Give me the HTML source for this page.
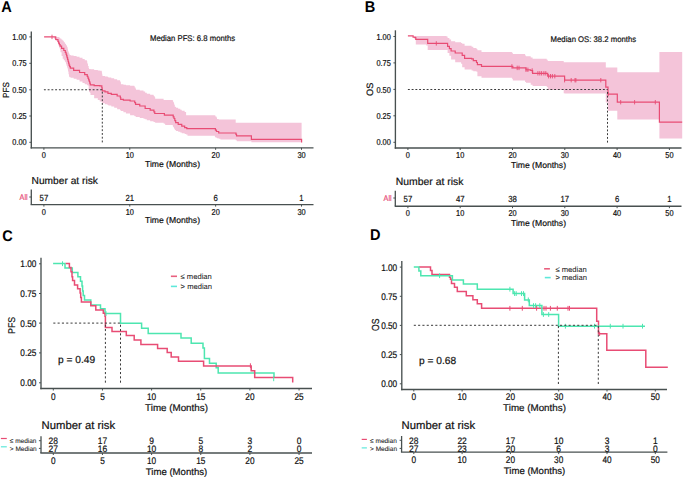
<!DOCTYPE html>
<html><head><meta charset="utf-8"><style>
html,body{margin:0;padding:0;background:#fff;width:685px;height:478px;overflow:hidden}
svg{display:block;font-family:"Liberation Sans",sans-serif;text-rendering:geometricPrecision}

</style></head><body>
<svg width="685" height="478" viewBox="0 0 685 478">
<rect width="685" height="478" fill="#fff"/>
<text transform="translate(1.3,12.0) scale(0.94,1)" font-size="15.5" font-weight="bold" fill="#000">A</text>
<path d="M53.90,36.92 L55.75,36.92 L55.75,36.95 L57.60,36.95 L57.60,36.98 L57.95,36.98 L57.95,36.99 L58.65,36.99 L58.65,37.00 L59.00,37.00 L59.00,37.17 L59.38,37.17 L59.38,37.68 L60.12,37.68 L60.12,38.19 L60.50,38.19 L60.50,38.86 L61.60,38.86 L61.60,39.86 L62.70,39.86 L62.70,40.86 L63.80,40.86 L63.80,42.31 L64.90,42.31 L64.90,43.33 L65.28,43.33 L65.28,44.11 L66.03,44.11 L66.03,44.88 L66.40,44.88 L66.40,45.29 L66.63,45.29 L66.63,45.78 L67.10,45.78 L67.10,47.09 L67.57,47.09 L67.57,48.57 L67.80,48.57 L67.80,49.58 L68.05,49.58 L68.05,51.16 L68.55,51.16 L68.55,52.58 L69.05,52.58 L69.05,53.30 L69.30,53.30 L69.30,53.88 L69.65,53.88 L69.65,54.90 L70.35,54.90 L70.35,55.02 L70.70,55.02 L70.70,55.40 L73.65,55.40 L73.65,56.09 L76.60,56.09 L76.60,56.77 L79.55,56.77 L79.55,57.84 L82.50,57.84 L82.50,59.09 L84.70,59.09 L84.70,60.16 L86.90,60.16 L86.90,61.37 L87.25,61.37 L87.25,63.40 L87.95,63.40 L87.95,66.10 L88.65,66.10 L88.65,68.12 L89.00,68.12 L89.00,68.82 L89.25,68.82 L89.25,68.88 L89.75,68.88 L89.75,68.97 L90.25,68.97 L90.25,69.03 L90.50,69.03 L90.50,69.35 L94.15,69.35 L94.15,69.95 L97.80,69.95 L97.80,70.42 L99.75,70.42 L99.75,70.74 L101.70,70.74 L101.70,71.31 L101.83,71.31 L101.83,72.56 L102.10,72.56 L102.10,74.24 L102.37,74.24 L102.37,75.49 L102.50,75.49 L102.50,76.10 L105.00,76.10 L105.00,76.50 L107.50,76.50 L107.50,76.76 L107.95,76.76 L107.95,76.89 L108.40,76.89 L108.40,77.38 L111.30,77.38 L111.30,78.21 L114.20,78.21 L114.20,79.25 L117.15,79.25 L117.15,80.35 L120.10,80.35 L120.10,81.09 L120.30,81.09 L120.30,81.68 L120.70,81.68 L120.70,82.26 L120.90,82.26 L120.90,84.28 L123.40,84.28 L123.40,84.83 L125.90,84.83 L125.90,85.30 L130.10,85.30 L130.10,85.70 L134.30,85.70 L134.30,86.33 L134.73,86.33 L134.73,87.60 L135.57,87.60 L135.57,88.87 L136.00,88.87 L136.00,89.70 L139.75,89.70 L139.75,90.50 L143.50,90.50 L143.50,91.52 L145.15,91.52 L145.15,92.78 L146.80,92.78 L146.80,93.83 L150.15,93.83 L150.15,94.67 L153.50,94.67 L153.50,95.42 L153.93,95.42 L153.93,96.35 L154.77,96.35 L154.77,97.28 L155.20,97.28 L155.20,98.85 L163.60,98.85 L163.60,100.10 L164.40,100.10 L164.40,100.10 L165.20,100.10 L165.20,100.10 L172.80,100.10 L172.80,100.64 L173.20,100.64 L173.20,102.24 L174.00,102.24 L174.00,103.85 L174.40,103.85 L174.40,104.95 L174.82,104.95 L174.82,106.67 L175.68,106.67 L175.68,107.10 L176.10,107.10 L176.10,107.75 L178.20,107.75 L178.20,108.82 L180.30,108.82 L180.30,109.69 L181.75,109.69 L181.75,110.77 L184.65,110.77 L184.65,112.12 L186.10,112.12 L186.10,115.20 L186.80,115.20 L186.80,115.20 L187.50,115.20 L187.50,115.20 L214.90,115.20 L214.90,115.54 L215.43,115.54 L215.43,116.54 L216.47,116.54 L216.47,117.54 L217.00,117.54 L217.00,118.95 L218.70,118.95 L218.70,119.40 L220.40,119.40 L220.40,119.40 L235.70,119.40 L235.70,122.70 L235.97,122.70 L235.97,122.70 L236.53,122.70 L236.53,122.70 L236.80,122.70 L236.80,122.70 L251.40,122.70 L251.40,122.70 L301.60,122.70 L301.60,142.20 L251.40,142.20 L251.40,141.22 L236.80,141.22 L236.80,140.32 L236.53,140.32 L236.53,140.27 L235.97,140.27 L235.97,140.22 L235.70,140.22 L235.70,139.50 L220.40,139.50 L220.40,138.72 L218.70,138.72 L218.70,138.14 L217.00,138.14 L217.00,137.71 L216.47,137.71 L216.47,137.41 L215.43,137.41 L215.43,137.10 L214.90,137.10 L214.90,135.76 L187.50,135.76 L187.50,134.49 L186.80,134.49 L186.80,134.43 L186.10,134.43 L186.10,134.12 L184.65,134.12 L184.65,133.27 L181.75,133.27 L181.75,132.43 L180.30,132.43 L180.30,131.74 L178.20,131.74 L178.20,130.92 L176.10,130.92 L176.10,130.43 L175.68,130.43 L175.68,130.12 L174.82,130.12 L174.82,129.04 L174.40,129.04 L174.40,128.35 L174.00,128.35 L174.00,127.34 L173.20,127.34 L173.20,126.34 L172.80,126.34 L172.80,124.97 L165.20,124.97 L165.20,123.83 L164.40,123.83 L164.40,123.61 L163.60,123.61 L163.60,122.83 L155.20,122.83 L155.20,122.14 L154.77,122.14 L154.77,122.03 L153.93,122.03 L153.93,121.93 L153.50,121.93 L153.50,121.33 L150.15,121.33 L150.15,120.19 L146.80,120.19 L146.80,119.34 L145.15,119.34 L145.15,118.78 L143.50,118.78 L143.50,117.99 L139.75,117.99 L139.75,116.97 L136.00,116.97 L136.00,116.40 L135.57,116.40 L135.57,116.23 L134.73,116.23 L134.73,116.06 L134.30,116.06 L134.30,115.17 L130.10,115.17 L130.10,113.53 L125.90,113.53 L125.90,112.16 L123.40,112.16 L123.40,111.08 L120.90,111.08 L120.90,110.50 L120.70,110.50 L120.70,110.37 L120.30,110.37 L120.30,110.24 L120.10,110.24 L120.10,109.35 L117.15,109.35 L117.15,107.65 L114.20,107.65 L114.20,106.40 L111.30,106.40 L111.30,105.60 L108.40,105.60 L108.40,105.10 L107.95,105.10 L107.95,104.90 L107.50,104.90 L107.50,104.25 L105.00,104.25 L105.00,103.15 L102.50,103.15 L102.50,102.56 L102.37,102.56 L102.37,102.42 L102.10,102.42 L102.10,102.24 L101.83,102.24 L101.83,102.11 L101.70,102.11 L101.70,101.42 L99.75,101.42 L99.75,100.12 L97.80,100.12 L97.80,98.25 L94.15,98.25 L94.15,94.88 L90.50,94.88 L90.50,92.90 L90.25,92.90 L90.25,92.52 L89.75,92.52 L89.75,92.01 L89.25,92.01 L89.25,91.63 L89.00,91.63 L89.00,90.03 L88.65,90.03 L88.65,85.60 L87.95,85.60 L87.95,85.21 L87.25,85.21 L87.25,84.91 L86.90,84.91 L86.90,84.19 L84.70,84.19 L84.70,82.95 L82.50,82.95 L82.50,81.50 L79.55,81.50 L79.55,79.84 L76.60,79.84 L76.60,78.84 L73.65,78.84 L73.65,77.86 L70.70,77.86 L70.70,77.31 L70.35,77.31 L70.35,77.13 L69.65,77.13 L69.65,76.96 L69.30,76.96 L69.30,76.21 L69.05,76.21 L69.05,74.15 L68.55,74.15 L68.55,71.44 L68.05,71.44 L68.05,69.46 L67.80,69.46 L67.80,68.46 L67.57,68.46 L67.57,67.40 L67.10,67.40 L67.10,65.99 L66.63,65.99 L66.63,64.95 L66.40,64.95 L66.40,64.05 L66.03,64.05 L66.03,62.37 L65.28,62.37 L65.28,61.43 L64.90,61.43 L64.90,60.30 L63.80,60.30 L63.80,58.63 L62.70,58.63 L62.70,55.98 L61.60,55.98 L61.60,52.32 L60.50,52.32 L60.50,49.93 L60.12,49.93 L60.12,48.25 L59.38,48.25 L59.38,46.57 L59.00,46.57 L59.00,45.48 L58.65,45.48 L58.65,43.90 L57.95,43.90 L57.95,42.98 L57.60,42.98 L57.60,41.04 L55.75,41.04 L55.75,38.80 L53.90,38.80Z" fill="#f4c4d9" stroke="none"/>
<path d="M44.10,36.90H53.90V36.90H55.75V39.50H57.60V39.50H57.95V41.35H58.65V43.20H59.00V43.20H59.38V44.65H60.12V46.10H60.50V46.10H61.60V48.30H62.70V48.30H63.80V50.50H64.90V50.50H65.28V52.35H66.03V54.20H66.40V54.20H66.63V55.90H67.10V57.60H67.57V59.30H67.80V59.30H68.05V61.23H68.55V63.17H69.05V65.10H69.30V65.10H69.65V66.60H70.35V68.10H70.70V68.10H73.65V70.30H76.60V70.30H79.55V72.50H82.50V72.50H84.70V74.70H86.90V74.70H87.25V76.40H87.95V78.10H88.65V79.80H89.00V79.80H89.25V81.50H89.75V83.20H90.25V84.90H90.50V84.90H94.15V85.60H97.80V85.60H99.75V85.90H101.70V85.90H101.83V87.57H102.10V89.23H102.37V90.90H102.50V90.90H105.00V91.80H107.50V91.80H107.95V93.40H108.40V93.40H111.30V94.30H114.20V94.30H117.15V96.00H120.10V96.00H120.30V97.65H120.70V99.30H120.90V99.30H123.40V100.10H125.90V100.10H130.10V101.00H134.30V101.00H134.73V102.65H135.57V104.30H136.00V104.30H139.75V106.00H143.50V106.00H145.15V108.50H146.80V108.50H150.15V110.20H153.50V110.20H153.93V111.85H154.77V113.50H155.20V113.50H163.60V113.50H164.40V115.20H165.20V115.20H172.80V115.20H173.20V116.85H174.00V118.50H174.40V118.50H174.82V120.60H175.68V122.70H176.10V122.70H178.20V124.40H180.30V124.40H181.75V126.05H184.65V127.70H186.10V127.70H186.80V128.60H187.50V128.60H214.90V128.60H215.43V130.05H216.47V131.50H217.00V131.50H218.70V133.00H220.40V133.00H235.70V133.00H235.97V134.40H236.53V135.80H236.80V135.80H251.40V135.80H251.40V137.55H251.40V139.30H251.40V139.30H301.60V139.30H301.60V140.85H301.60V142.40H301.60V142.40" fill="none" stroke="#e84c74" stroke-width="1.2"/>
<line x1="52.00" y1="34.70" x2="52.00" y2="39.10" stroke="#e84c74" stroke-width="0.9" />
<line x1="43.90" y1="89.80" x2="102.30" y2="89.80" stroke="#3a3a3a" stroke-width="1.1" stroke-dasharray="1.9 1.85"/>
<line x1="102.30" y1="142.40" x2="102.30" y2="89.80" stroke="#3a3a3a" stroke-width="1.0" stroke-dasharray="1.9 1.85"/>
<line x1="31.30" y1="31.50" x2="31.30" y2="148.48" stroke="#485050" stroke-width="1.35" />
<line x1="29.30" y1="36.90" x2="31.30" y2="36.90" stroke="#485050" stroke-width="1.0" />
<text transform="translate(26.70,40.00) scale(0.86,1)" font-size="8.6" text-anchor="end" fill="#111111" stroke="#111111" stroke-width="0.2" font-weight="normal">1.00</text>
<line x1="29.30" y1="63.30" x2="31.30" y2="63.30" stroke="#485050" stroke-width="1.0" />
<text transform="translate(26.70,66.40) scale(0.86,1)" font-size="8.6" text-anchor="end" fill="#111111" stroke="#111111" stroke-width="0.2" font-weight="normal">0.75</text>
<line x1="29.30" y1="89.80" x2="31.30" y2="89.80" stroke="#485050" stroke-width="1.0" />
<text transform="translate(26.70,92.90) scale(0.86,1)" font-size="8.6" text-anchor="end" fill="#111111" stroke="#111111" stroke-width="0.2" font-weight="normal">0.50</text>
<line x1="29.30" y1="116.00" x2="31.30" y2="116.00" stroke="#485050" stroke-width="1.0" />
<text transform="translate(26.70,119.10) scale(0.86,1)" font-size="8.6" text-anchor="end" fill="#111111" stroke="#111111" stroke-width="0.2" font-weight="normal">0.25</text>
<line x1="29.30" y1="142.30" x2="31.30" y2="142.30" stroke="#485050" stroke-width="1.0" />
<text transform="translate(26.70,145.40) scale(0.86,1)" font-size="8.6" text-anchor="end" fill="#111111" stroke="#111111" stroke-width="0.2" font-weight="normal">0.00</text>
<line x1="30.62" y1="147.80" x2="313.50" y2="147.80" stroke="#485050" stroke-width="1.35" />
<line x1="43.90" y1="147.80" x2="43.90" y2="149.80" stroke="#485050" stroke-width="1.0" />
<text transform="translate(43.90,158.20) scale(0.86,1)" font-size="8.6" text-anchor="middle" fill="#111111" stroke="#111111" stroke-width="0.2" font-weight="normal">0</text>
<line x1="129.77" y1="147.80" x2="129.77" y2="149.80" stroke="#485050" stroke-width="1.0" />
<text transform="translate(129.77,158.20) scale(0.86,1)" font-size="8.6" text-anchor="middle" fill="#111111" stroke="#111111" stroke-width="0.2" font-weight="normal">10</text>
<line x1="215.64" y1="147.80" x2="215.64" y2="149.80" stroke="#485050" stroke-width="1.0" />
<text transform="translate(215.64,158.20) scale(0.86,1)" font-size="8.6" text-anchor="middle" fill="#111111" stroke="#111111" stroke-width="0.2" font-weight="normal">20</text>
<line x1="301.51" y1="147.80" x2="301.51" y2="149.80" stroke="#485050" stroke-width="1.0" />
<text transform="translate(301.51,158.20) scale(0.86,1)" font-size="8.6" text-anchor="middle" fill="#111111" stroke="#111111" stroke-width="0.2" font-weight="normal">30</text>
<text x="172.50" y="167.30" font-size="8.6" text-anchor="middle" fill="#111111" stroke="#111111" stroke-width="0.2" font-weight="normal" >Time (Months)</text>
<text x="0" y="0" font-size="8.8" text-anchor="middle" fill="#111111" stroke="#111111" stroke-width="0.2" transform="translate(9.2,90) rotate(-90) scale(0.93,1)">PFS</text>
<text transform="translate(150.00,41.25) scale(0.944,1)" font-size="8.2" text-anchor="start" fill="#111111" stroke="#111111" stroke-width="0.2" font-weight="normal">Median PFS: 6.8 months</text>
<text x="31.60" y="183.60" font-size="10.2" text-anchor="start" fill="#111111" stroke="#111111" stroke-width="0.2" font-weight="normal" >Number at risk</text>
<line x1="31.30" y1="189.50" x2="31.30" y2="204.60" stroke="#485050" stroke-width="1.3" />
<line x1="29.30" y1="197.00" x2="31.30" y2="197.00" stroke="#485050" stroke-width="1.0" />
<text transform="translate(27.60,200.15) scale(0.88,1)" font-size="8.2" text-anchor="end" fill="#e8507a" stroke="#e8507a" stroke-width="0.2" font-weight="normal">All</text>
<line x1="30.62" y1="204.60" x2="313.50" y2="204.60" stroke="#485050" stroke-width="1.35" />
<line x1="43.90" y1="204.60" x2="43.90" y2="206.60" stroke="#485050" stroke-width="1.0" />
<text transform="translate(43.90,215.10) scale(0.86,1)" font-size="8.6" text-anchor="middle" fill="#111111" stroke="#111111" stroke-width="0.2" font-weight="normal">0</text>
<line x1="129.77" y1="204.60" x2="129.77" y2="206.60" stroke="#485050" stroke-width="1.0" />
<text transform="translate(129.77,215.10) scale(0.86,1)" font-size="8.6" text-anchor="middle" fill="#111111" stroke="#111111" stroke-width="0.2" font-weight="normal">10</text>
<line x1="215.64" y1="204.60" x2="215.64" y2="206.60" stroke="#485050" stroke-width="1.0" />
<text transform="translate(215.64,215.10) scale(0.86,1)" font-size="8.6" text-anchor="middle" fill="#111111" stroke="#111111" stroke-width="0.2" font-weight="normal">20</text>
<line x1="301.51" y1="204.60" x2="301.51" y2="206.60" stroke="#485050" stroke-width="1.0" />
<text transform="translate(301.51,215.10) scale(0.86,1)" font-size="8.6" text-anchor="middle" fill="#111111" stroke="#111111" stroke-width="0.2" font-weight="normal">30</text>
<text transform="translate(43.90,200.77) scale(0.88,1)" font-size="8.8" text-anchor="middle" fill="#111111" stroke="#111111" stroke-width="0.2" font-weight="normal">57</text>
<text transform="translate(129.77,200.77) scale(0.88,1)" font-size="8.8" text-anchor="middle" fill="#111111" stroke="#111111" stroke-width="0.2" font-weight="normal">21</text>
<text transform="translate(215.64,200.77) scale(0.88,1)" font-size="8.8" text-anchor="middle" fill="#111111" stroke="#111111" stroke-width="0.2" font-weight="normal">6</text>
<text transform="translate(301.51,200.77) scale(0.88,1)" font-size="8.8" text-anchor="middle" fill="#111111" stroke="#111111" stroke-width="0.2" font-weight="normal">1</text>
<text x="172.50" y="223.30" font-size="8.6" text-anchor="middle" fill="#111111" stroke="#111111" stroke-width="0.2" font-weight="normal" >Time (Months)</text>
<text transform="translate(364.8,12.0) scale(0.94,1)" font-size="15.5" font-weight="bold" fill="#000">B</text>
<path d="M414.90,35.90 L415.80,35.90 L415.80,35.90 L426.30,35.90 L426.30,35.90 L427.70,35.90 L427.70,35.90 L446.50,35.90 L446.50,36.55 L447.60,36.55 L447.60,38.00 L449.40,38.00 L449.40,39.62 L451.10,39.62 L451.10,41.22 L455.20,41.22 L455.20,42.32 L461.10,42.32 L461.10,43.08 L462.20,43.08 L462.20,43.64 L464.60,43.64 L464.60,45.85 L471.60,45.85 L471.60,46.72 L473.30,46.72 L473.30,47.92 L476.50,47.92 L476.50,48.93 L477.40,48.93 L477.40,50.22 L481.50,50.22 L481.50,52.11 L511.90,52.11 L511.90,52.70 L512.80,52.70 L512.80,54.10 L525.10,54.10 L525.10,55.50 L526.00,55.50 L526.00,56.18 L530.70,56.18 L530.70,57.52 L532.60,57.52 L532.60,58.85 L546.70,58.85 L546.70,59.87 L547.70,59.87 L547.70,61.01 L563.70,61.01 L563.70,62.14 L564.60,62.14 L564.60,62.20 L605.80,62.20 L605.80,67.60 L608.00,67.60 L608.00,67.60 L617.30,67.60 L617.30,72.30 L659.40,72.30 L659.40,52.00 L682.20,52.00 L682.20,138.60 L659.40,138.60 L659.40,119.50 L617.30,119.50 L617.30,110.80 L608.00,110.80 L608.00,102.50 L605.80,102.50 L605.80,93.50 L564.60,93.50 L564.60,93.33 L563.70,93.33 L563.70,90.12 L547.70,90.12 L547.70,86.89 L546.70,86.89 L546.70,85.95 L532.60,85.95 L532.60,84.63 L530.70,84.63 L530.70,82.67 L526.00,82.67 L526.00,81.90 L525.10,81.90 L525.10,80.50 L512.80,80.50 L512.80,78.65 L511.90,78.65 L511.90,77.80 L481.50,77.80 L481.50,76.18 L477.40,76.18 L477.40,71.76 L476.50,71.76 L476.50,71.22 L473.30,71.22 L473.30,70.57 L471.60,70.57 L471.60,69.41 L464.60,69.41 L464.60,67.28 L462.20,67.28 L462.20,63.71 L461.10,63.71 L461.10,62.23 L455.20,62.23 L455.20,59.54 L451.10,59.54 L451.10,55.83 L449.40,55.83 L449.40,53.01 L447.60,53.01 L447.60,49.90 L446.50,49.90 L446.50,49.90 L427.70,49.90 L427.70,45.47 L426.30,45.47 L426.30,44.51 L415.80,44.51 L415.80,39.90 L414.90,39.90Z" fill="#f4c4d9" stroke="none"/>
<path d="M407.90,35.90H412.30V35.90H413.10V37.10H414.90V37.60H415.80V39.40H426.30V39.40H427.70V43.40H446.50V43.40H447.60V46.40H449.40V48.70H451.10V51.00H455.20V53.00H461.10V53.00H462.20V55.30H464.60V58.30H471.60V58.90H473.30V60.60H476.50V62.50H477.40V64.60H481.50V66.40H511.90V66.40H512.80V67.90H525.10V67.90H526.00V69.80H530.70V70.50H532.60V73.30H546.70V73.30H547.70V76.20H563.70V76.20H564.60V80.20H605.80V80.20H605.80V87.20H608.00V87.20H608.00V94.20H617.30V94.20H617.30V102.20H659.40V102.20H659.40V122.20H682.20V122.20" fill="none" stroke="#e84c74" stroke-width="1.2"/>
<line x1="436.30" y1="41.20" x2="436.30" y2="45.60" stroke="#e84c74" stroke-width="0.9" />
<line x1="511.90" y1="64.20" x2="511.90" y2="68.60" stroke="#e84c74" stroke-width="0.9" />
<line x1="517.20" y1="65.70" x2="517.20" y2="70.10" stroke="#e84c74" stroke-width="0.9" />
<line x1="519.00" y1="65.70" x2="519.00" y2="70.10" stroke="#e84c74" stroke-width="0.9" />
<line x1="526.00" y1="67.60" x2="526.00" y2="72.00" stroke="#e84c74" stroke-width="0.9" />
<line x1="527.90" y1="67.60" x2="527.90" y2="72.00" stroke="#e84c74" stroke-width="0.9" />
<line x1="532.20" y1="68.30" x2="532.20" y2="72.70" stroke="#e84c74" stroke-width="0.9" />
<line x1="537.90" y1="71.10" x2="537.90" y2="75.50" stroke="#e84c74" stroke-width="0.9" />
<line x1="539.80" y1="71.10" x2="539.80" y2="75.50" stroke="#e84c74" stroke-width="0.9" />
<line x1="541.60" y1="71.10" x2="541.60" y2="75.50" stroke="#e84c74" stroke-width="0.9" />
<line x1="543.90" y1="71.10" x2="543.90" y2="75.50" stroke="#e84c74" stroke-width="0.9" />
<line x1="545.80" y1="71.10" x2="545.80" y2="75.50" stroke="#e84c74" stroke-width="0.9" />
<line x1="548.60" y1="74.00" x2="548.60" y2="78.40" stroke="#e84c74" stroke-width="0.9" />
<line x1="550.50" y1="74.00" x2="550.50" y2="78.40" stroke="#e84c74" stroke-width="0.9" />
<line x1="552.40" y1="74.00" x2="552.40" y2="78.40" stroke="#e84c74" stroke-width="0.9" />
<line x1="554.80" y1="74.00" x2="554.80" y2="78.40" stroke="#e84c74" stroke-width="0.9" />
<line x1="564.60" y1="78.00" x2="564.60" y2="82.40" stroke="#e84c74" stroke-width="0.9" />
<line x1="571.20" y1="78.00" x2="571.20" y2="82.40" stroke="#e84c74" stroke-width="0.9" />
<line x1="575.00" y1="78.00" x2="575.00" y2="82.40" stroke="#e84c74" stroke-width="0.9" />
<line x1="575.90" y1="78.00" x2="575.90" y2="82.40" stroke="#e84c74" stroke-width="0.9" />
<line x1="600.80" y1="78.00" x2="600.80" y2="82.40" stroke="#e84c74" stroke-width="0.9" />
<line x1="608.30" y1="92.00" x2="608.30" y2="96.40" stroke="#e84c74" stroke-width="0.9" />
<line x1="620.70" y1="100.00" x2="620.70" y2="104.40" stroke="#e84c74" stroke-width="0.9" />
<line x1="634.60" y1="100.00" x2="634.60" y2="104.40" stroke="#e84c74" stroke-width="0.9" />
<line x1="655.30" y1="100.00" x2="655.30" y2="104.40" stroke="#e84c74" stroke-width="0.9" />
<line x1="407.90" y1="89.50" x2="607.50" y2="89.50" stroke="#3a3a3a" stroke-width="1.0" stroke-dasharray="1.9 1.85"/>
<line x1="607.50" y1="142.60" x2="607.50" y2="89.50" stroke="#3a3a3a" stroke-width="1.0" stroke-dasharray="1.9 1.85"/>
<line x1="395.40" y1="30.30" x2="395.40" y2="148.68" stroke="#485050" stroke-width="1.35" />
<line x1="393.40" y1="36.50" x2="395.40" y2="36.50" stroke="#485050" stroke-width="1.0" />
<text transform="translate(390.80,39.60) scale(0.86,1)" font-size="8.6" text-anchor="end" fill="#111111" stroke="#111111" stroke-width="0.2" font-weight="normal">1.00</text>
<line x1="393.40" y1="62.90" x2="395.40" y2="62.90" stroke="#485050" stroke-width="1.0" />
<text transform="translate(390.80,66.00) scale(0.86,1)" font-size="8.6" text-anchor="end" fill="#111111" stroke="#111111" stroke-width="0.2" font-weight="normal">0.75</text>
<line x1="393.40" y1="89.40" x2="395.40" y2="89.40" stroke="#485050" stroke-width="1.0" />
<text transform="translate(390.80,92.50) scale(0.86,1)" font-size="8.6" text-anchor="end" fill="#111111" stroke="#111111" stroke-width="0.2" font-weight="normal">0.50</text>
<line x1="393.40" y1="115.80" x2="395.40" y2="115.80" stroke="#485050" stroke-width="1.0" />
<text transform="translate(390.80,118.90) scale(0.86,1)" font-size="8.6" text-anchor="end" fill="#111111" stroke="#111111" stroke-width="0.2" font-weight="normal">0.25</text>
<line x1="393.40" y1="142.30" x2="395.40" y2="142.30" stroke="#485050" stroke-width="1.0" />
<text transform="translate(390.80,145.40) scale(0.86,1)" font-size="8.6" text-anchor="end" fill="#111111" stroke="#111111" stroke-width="0.2" font-weight="normal">0.00</text>
<line x1="394.72" y1="148.00" x2="681.50" y2="148.00" stroke="#485050" stroke-width="1.35" />
<line x1="407.90" y1="148.00" x2="407.90" y2="150.00" stroke="#485050" stroke-width="1.0" />
<text transform="translate(407.90,158.40) scale(0.86,1)" font-size="8.6" text-anchor="middle" fill="#111111" stroke="#111111" stroke-width="0.2" font-weight="normal">0</text>
<line x1="460.20" y1="148.00" x2="460.20" y2="150.00" stroke="#485050" stroke-width="1.0" />
<text transform="translate(460.20,158.40) scale(0.86,1)" font-size="8.6" text-anchor="middle" fill="#111111" stroke="#111111" stroke-width="0.2" font-weight="normal">10</text>
<line x1="512.50" y1="148.00" x2="512.50" y2="150.00" stroke="#485050" stroke-width="1.0" />
<text transform="translate(512.50,158.40) scale(0.86,1)" font-size="8.6" text-anchor="middle" fill="#111111" stroke="#111111" stroke-width="0.2" font-weight="normal">20</text>
<line x1="564.80" y1="148.00" x2="564.80" y2="150.00" stroke="#485050" stroke-width="1.0" />
<text transform="translate(564.80,158.40) scale(0.86,1)" font-size="8.6" text-anchor="middle" fill="#111111" stroke="#111111" stroke-width="0.2" font-weight="normal">30</text>
<line x1="617.10" y1="148.00" x2="617.10" y2="150.00" stroke="#485050" stroke-width="1.0" />
<text transform="translate(617.10,158.40) scale(0.86,1)" font-size="8.6" text-anchor="middle" fill="#111111" stroke="#111111" stroke-width="0.2" font-weight="normal">40</text>
<line x1="669.40" y1="148.00" x2="669.40" y2="150.00" stroke="#485050" stroke-width="1.0" />
<text transform="translate(669.40,158.40) scale(0.86,1)" font-size="8.6" text-anchor="middle" fill="#111111" stroke="#111111" stroke-width="0.2" font-weight="normal">50</text>
<text x="538.50" y="167.60" font-size="8.6" text-anchor="middle" fill="#111111" stroke="#111111" stroke-width="0.2" font-weight="normal" >Time (Months)</text>
<text x="0" y="0" font-size="9.2" text-anchor="middle" fill="#111111" stroke="#111111" stroke-width="0.2" transform="translate(373.1,89.3) rotate(-90)">OS</text>
<text transform="translate(550.60,41.55) scale(0.944,1)" font-size="8.2" text-anchor="start" fill="#111111" stroke="#111111" stroke-width="0.2" font-weight="normal">Median OS: 38.2 months</text>
<text x="395.80" y="185.00" font-size="10.4" text-anchor="start" fill="#111111" stroke="#111111" stroke-width="0.2" font-weight="normal" >Number at risk</text>
<line x1="395.30" y1="190.70" x2="395.30" y2="206.20" stroke="#485050" stroke-width="1.3" />
<line x1="393.30" y1="198.00" x2="395.30" y2="198.00" stroke="#485050" stroke-width="1.0" />
<text transform="translate(391.60,200.95) scale(0.88,1)" font-size="8.2" text-anchor="end" fill="#e8507a" stroke="#e8507a" stroke-width="0.2" font-weight="normal">All</text>
<line x1="394.72" y1="206.20" x2="681.50" y2="206.20" stroke="#485050" stroke-width="1.35" />
<line x1="407.90" y1="206.20" x2="407.90" y2="208.20" stroke="#485050" stroke-width="1.0" />
<text transform="translate(407.90,216.30) scale(0.86,1)" font-size="8.6" text-anchor="middle" fill="#111111" stroke="#111111" stroke-width="0.2" font-weight="normal">0</text>
<line x1="460.20" y1="206.20" x2="460.20" y2="208.20" stroke="#485050" stroke-width="1.0" />
<text transform="translate(460.20,216.30) scale(0.86,1)" font-size="8.6" text-anchor="middle" fill="#111111" stroke="#111111" stroke-width="0.2" font-weight="normal">10</text>
<line x1="512.50" y1="206.20" x2="512.50" y2="208.20" stroke="#485050" stroke-width="1.0" />
<text transform="translate(512.50,216.30) scale(0.86,1)" font-size="8.6" text-anchor="middle" fill="#111111" stroke="#111111" stroke-width="0.2" font-weight="normal">20</text>
<line x1="564.80" y1="206.20" x2="564.80" y2="208.20" stroke="#485050" stroke-width="1.0" />
<text transform="translate(564.80,216.30) scale(0.86,1)" font-size="8.6" text-anchor="middle" fill="#111111" stroke="#111111" stroke-width="0.2" font-weight="normal">30</text>
<line x1="617.10" y1="206.20" x2="617.10" y2="208.20" stroke="#485050" stroke-width="1.0" />
<text transform="translate(617.10,216.30) scale(0.86,1)" font-size="8.6" text-anchor="middle" fill="#111111" stroke="#111111" stroke-width="0.2" font-weight="normal">40</text>
<line x1="669.40" y1="206.20" x2="669.40" y2="208.20" stroke="#485050" stroke-width="1.0" />
<text transform="translate(669.40,216.30) scale(0.86,1)" font-size="8.6" text-anchor="middle" fill="#111111" stroke="#111111" stroke-width="0.2" font-weight="normal">50</text>
<text transform="translate(407.90,201.67) scale(0.88,1)" font-size="8.8" text-anchor="middle" fill="#111111" stroke="#111111" stroke-width="0.2" font-weight="normal">57</text>
<text transform="translate(460.20,201.67) scale(0.88,1)" font-size="8.8" text-anchor="middle" fill="#111111" stroke="#111111" stroke-width="0.2" font-weight="normal">47</text>
<text transform="translate(512.50,201.67) scale(0.88,1)" font-size="8.8" text-anchor="middle" fill="#111111" stroke="#111111" stroke-width="0.2" font-weight="normal">38</text>
<text transform="translate(564.80,201.67) scale(0.88,1)" font-size="8.8" text-anchor="middle" fill="#111111" stroke="#111111" stroke-width="0.2" font-weight="normal">17</text>
<text transform="translate(617.10,201.67) scale(0.88,1)" font-size="8.8" text-anchor="middle" fill="#111111" stroke="#111111" stroke-width="0.2" font-weight="normal">6</text>
<text transform="translate(669.40,201.67) scale(0.88,1)" font-size="8.8" text-anchor="middle" fill="#111111" stroke="#111111" stroke-width="0.2" font-weight="normal">1</text>
<text x="538.50" y="225.60" font-size="8.6" text-anchor="middle" fill="#111111" stroke="#111111" stroke-width="0.2" font-weight="normal" >Time (Months)</text>
<text transform="translate(2.2,240.6) scale(0.94,1)" font-size="15.5" font-weight="bold" fill="#000">C</text>
<path d="M53.10,263.60H65.00V268.00H72.30V272.40H77.90V276.80H80.50V281.20H82.00V286.00H82.60V291.00H83.20V295.60H84.50V300.00H90.80V305.00H100.50V308.80H105.00V313.40H120.50V323.30H141.60V328.30H148.20V333.50H181.00V338.00H191.20V343.20H203.00V348.10H204.40V358.60H209.50V363.20H216.20V367.80H218.20V373.10H274.00V377.90" fill="none" stroke="#4de6b0" stroke-width="1.5"/>
<path d="M65.70,263.60H69.40V267.40H71.00V271.80H72.00V276.80H72.60V280.60H74.50V285.00H77.60V288.70H80.10V293.10H80.70V297.50H81.40V301.90H90.80V305.70H95.80V310.10H103.30V313.20H105.00V316.30H105.40V327.50H112.00V331.60H126.30V335.60H134.20V340.00H140.90V344.40H157.60V348.40H167.20V352.60H171.20V356.90H178.50V361.30H203.60V365.90H251.20V370.70H254.70V377.40H292.70V382.60" fill="none" stroke="#e84c74" stroke-width="1.5"/>
<line x1="62.50" y1="261.30" x2="62.50" y2="266.10" stroke="#4de6b0" stroke-width="1" />
<line x1="250.40" y1="363.30" x2="250.40" y2="368.10" stroke="#e84c74" stroke-width="1" />
<line x1="273.70" y1="376.40" x2="273.70" y2="381.20" stroke="#4de6b0" stroke-width="1" />
<line x1="106.00" y1="311.20" x2="106.00" y2="316.00" stroke="#4de6b0" stroke-width="1" />
<line x1="53.30" y1="323.10" x2="120.50" y2="323.10" stroke="#3a3a3a" stroke-width="1.0" stroke-dasharray="2.1 2.2"/>
<line x1="105.40" y1="382.70" x2="105.40" y2="323.10" stroke="#3a3a3a" stroke-width="1.0" stroke-dasharray="2.1 2.2"/>
<line x1="120.50" y1="382.70" x2="120.50" y2="323.10" stroke="#3a3a3a" stroke-width="1.0" stroke-dasharray="2.1 2.2"/>
<line x1="41.00" y1="257.70" x2="41.00" y2="389.18" stroke="#485050" stroke-width="1.35" />
<line x1="39.00" y1="263.80" x2="41.00" y2="263.80" stroke="#485050" stroke-width="1.0" />
<text transform="translate(36.40,267.26) scale(0.86,1)" font-size="9.6" text-anchor="end" fill="#111111" stroke="#111111" stroke-width="0.2" font-weight="normal">1.00</text>
<line x1="39.00" y1="293.50" x2="41.00" y2="293.50" stroke="#485050" stroke-width="1.0" />
<text transform="translate(36.40,296.96) scale(0.86,1)" font-size="9.6" text-anchor="end" fill="#111111" stroke="#111111" stroke-width="0.2" font-weight="normal">0.75</text>
<line x1="39.00" y1="323.10" x2="41.00" y2="323.10" stroke="#485050" stroke-width="1.0" />
<text transform="translate(36.40,326.56) scale(0.86,1)" font-size="9.6" text-anchor="end" fill="#111111" stroke="#111111" stroke-width="0.2" font-weight="normal">0.50</text>
<line x1="39.00" y1="352.90" x2="41.00" y2="352.90" stroke="#485050" stroke-width="1.0" />
<text transform="translate(36.40,356.36) scale(0.86,1)" font-size="9.6" text-anchor="end" fill="#111111" stroke="#111111" stroke-width="0.2" font-weight="normal">0.25</text>
<line x1="39.00" y1="382.80" x2="41.00" y2="382.80" stroke="#485050" stroke-width="1.0" />
<text transform="translate(36.40,386.26) scale(0.86,1)" font-size="9.6" text-anchor="end" fill="#111111" stroke="#111111" stroke-width="0.2" font-weight="normal">0.00</text>
<line x1="40.33" y1="388.50" x2="312.00" y2="388.50" stroke="#485050" stroke-width="1.35" />
<line x1="53.30" y1="388.50" x2="53.30" y2="390.50" stroke="#485050" stroke-width="1.0" />
<text transform="translate(53.30,399.96) scale(0.86,1)" font-size="9.6" text-anchor="middle" fill="#111111" stroke="#111111" stroke-width="0.2" font-weight="normal">0</text>
<line x1="102.45" y1="388.50" x2="102.45" y2="390.50" stroke="#485050" stroke-width="1.0" />
<text transform="translate(102.45,399.96) scale(0.86,1)" font-size="9.6" text-anchor="middle" fill="#111111" stroke="#111111" stroke-width="0.2" font-weight="normal">5</text>
<line x1="151.60" y1="388.50" x2="151.60" y2="390.50" stroke="#485050" stroke-width="1.0" />
<text transform="translate(151.60,399.96) scale(0.86,1)" font-size="9.6" text-anchor="middle" fill="#111111" stroke="#111111" stroke-width="0.2" font-weight="normal">10</text>
<line x1="200.75" y1="388.50" x2="200.75" y2="390.50" stroke="#485050" stroke-width="1.0" />
<text transform="translate(200.75,399.96) scale(0.86,1)" font-size="9.6" text-anchor="middle" fill="#111111" stroke="#111111" stroke-width="0.2" font-weight="normal">15</text>
<line x1="249.90" y1="388.50" x2="249.90" y2="390.50" stroke="#485050" stroke-width="1.0" />
<text transform="translate(249.90,399.96) scale(0.86,1)" font-size="9.6" text-anchor="middle" fill="#111111" stroke="#111111" stroke-width="0.2" font-weight="normal">20</text>
<line x1="299.05" y1="388.50" x2="299.05" y2="390.50" stroke="#485050" stroke-width="1.0" />
<text transform="translate(299.05,399.96) scale(0.86,1)" font-size="9.6" text-anchor="middle" fill="#111111" stroke="#111111" stroke-width="0.2" font-weight="normal">25</text>
<text x="176.50" y="410.93" font-size="9.8" text-anchor="middle" fill="#111111" stroke="#111111" stroke-width="0.2" font-weight="normal" >Time (Months)</text>
<text x="0" y="0" font-size="9.8" text-anchor="middle" fill="#111111" stroke="#111111" stroke-width="0.2" transform="translate(15.0,325.4) rotate(-90) scale(0.9,1)">PFS</text>
<text x="58.10" y="363.10" font-size="10.2" text-anchor="start" fill="#111111" stroke="#111111" stroke-width="0.2" font-weight="normal" >p = 0.49</text>
<line x1="170.90" y1="276.30" x2="177.00" y2="276.30" stroke="#e9607f" stroke-width="1.6" />
<line x1="170.90" y1="286.40" x2="177.00" y2="286.40" stroke="#5ee8da" stroke-width="1.6" />
<text x="180.60" y="279.34" font-size="7.6" text-anchor="start" fill="#222" stroke="#222" stroke-width="0.05" font-weight="normal" >≤ median</text>
<text x="180.60" y="289.14" font-size="7.6" text-anchor="start" fill="#222" stroke="#222" stroke-width="0.05" font-weight="normal" >&gt; median</text>
<text x="41.60" y="429.20" font-size="11.3" text-anchor="start" fill="#111111" stroke="#111111" stroke-width="0.2" font-weight="normal" >Number at risk</text>
<line x1="41.00" y1="436.20" x2="41.00" y2="453.00" stroke="#485050" stroke-width="1.3" />
<line x1="38.90" y1="440.70" x2="40.90" y2="440.70" stroke="#485050" stroke-width="1.0" />
<line x1="38.90" y1="448.40" x2="40.90" y2="448.40" stroke="#485050" stroke-width="1.0" />
<line x1="0.90" y1="438.50" x2="6.80" y2="438.50" stroke="#e84c74" stroke-width="1.2" />
<line x1="0.90" y1="446.80" x2="6.80" y2="446.80" stroke="#5ee8da" stroke-width="1.2" />
<text x="9.80" y="442.94" font-size="6.5" text-anchor="start" fill="#222" stroke="#222" stroke-width="0.08" font-weight="normal" >≤ median</text>
<text x="9.80" y="450.74" font-size="6.5" text-anchor="start" fill="#222" stroke="#222" stroke-width="0.08" font-weight="normal" >&gt; Median</text>
<line x1="40.33" y1="453.00" x2="312.00" y2="453.00" stroke="#485050" stroke-width="1.35" />
<line x1="53.30" y1="453.00" x2="53.30" y2="455.00" stroke="#485050" stroke-width="1.0" />
<text transform="translate(53.30,464.36) scale(0.86,1)" font-size="9.6" text-anchor="middle" fill="#111111" stroke="#111111" stroke-width="0.2" font-weight="normal">0</text>
<line x1="102.45" y1="453.00" x2="102.45" y2="455.00" stroke="#485050" stroke-width="1.0" />
<text transform="translate(102.45,464.36) scale(0.86,1)" font-size="9.6" text-anchor="middle" fill="#111111" stroke="#111111" stroke-width="0.2" font-weight="normal">5</text>
<line x1="151.60" y1="453.00" x2="151.60" y2="455.00" stroke="#485050" stroke-width="1.0" />
<text transform="translate(151.60,464.36) scale(0.86,1)" font-size="9.6" text-anchor="middle" fill="#111111" stroke="#111111" stroke-width="0.2" font-weight="normal">10</text>
<line x1="200.75" y1="453.00" x2="200.75" y2="455.00" stroke="#485050" stroke-width="1.0" />
<text transform="translate(200.75,464.36) scale(0.86,1)" font-size="9.6" text-anchor="middle" fill="#111111" stroke="#111111" stroke-width="0.2" font-weight="normal">15</text>
<line x1="249.90" y1="453.00" x2="249.90" y2="455.00" stroke="#485050" stroke-width="1.0" />
<text transform="translate(249.90,464.36) scale(0.86,1)" font-size="9.6" text-anchor="middle" fill="#111111" stroke="#111111" stroke-width="0.2" font-weight="normal">20</text>
<line x1="299.05" y1="453.00" x2="299.05" y2="455.00" stroke="#485050" stroke-width="1.0" />
<text transform="translate(299.05,464.36) scale(0.86,1)" font-size="9.6" text-anchor="middle" fill="#111111" stroke="#111111" stroke-width="0.2" font-weight="normal">25</text>
<text transform="translate(53.30,444.48) scale(0.9,1)" font-size="9.4" text-anchor="middle" fill="#111111" stroke="#111111" stroke-width="0.2" font-weight="normal">28</text>
<text transform="translate(53.30,452.18) scale(0.9,1)" font-size="9.4" text-anchor="middle" fill="#111111" stroke="#111111" stroke-width="0.2" font-weight="normal">27</text>
<text transform="translate(102.45,444.48) scale(0.9,1)" font-size="9.4" text-anchor="middle" fill="#111111" stroke="#111111" stroke-width="0.2" font-weight="normal">17</text>
<text transform="translate(102.45,452.18) scale(0.9,1)" font-size="9.4" text-anchor="middle" fill="#111111" stroke="#111111" stroke-width="0.2" font-weight="normal">16</text>
<text transform="translate(151.60,444.48) scale(0.9,1)" font-size="9.4" text-anchor="middle" fill="#111111" stroke="#111111" stroke-width="0.2" font-weight="normal">9</text>
<text transform="translate(151.60,452.18) scale(0.9,1)" font-size="9.4" text-anchor="middle" fill="#111111" stroke="#111111" stroke-width="0.2" font-weight="normal">10</text>
<text transform="translate(200.75,444.48) scale(0.9,1)" font-size="9.4" text-anchor="middle" fill="#111111" stroke="#111111" stroke-width="0.2" font-weight="normal">5</text>
<text transform="translate(200.75,452.18) scale(0.9,1)" font-size="9.4" text-anchor="middle" fill="#111111" stroke="#111111" stroke-width="0.2" font-weight="normal">8</text>
<text transform="translate(249.90,444.48) scale(0.9,1)" font-size="9.4" text-anchor="middle" fill="#111111" stroke="#111111" stroke-width="0.2" font-weight="normal">3</text>
<text transform="translate(249.90,452.18) scale(0.9,1)" font-size="9.4" text-anchor="middle" fill="#111111" stroke="#111111" stroke-width="0.2" font-weight="normal">2</text>
<text transform="translate(299.05,444.48) scale(0.9,1)" font-size="9.4" text-anchor="middle" fill="#111111" stroke="#111111" stroke-width="0.2" font-weight="normal">0</text>
<text transform="translate(299.05,452.18) scale(0.9,1)" font-size="9.4" text-anchor="middle" fill="#111111" stroke="#111111" stroke-width="0.2" font-weight="normal">0</text>
<text x="176.50" y="474.96" font-size="9.6" text-anchor="middle" fill="#111111" stroke="#111111" stroke-width="0.2" font-weight="normal" >Time (Months)</text>
<text transform="translate(370.1,240.1) scale(0.94,1)" font-size="15.5" font-weight="bold" fill="#000">D</text>
<path d="M418.90,266.90H430.50V270.50H432.00V274.60H449.50V277.20H450.50V279.20H451.50V283.40H454.50V287.20H457.30V291.40H466.30V295.80H472.90V299.70H477.30V303.80H481.60V308.30H596.70V321.30H598.50V333.80H606.80V350.30H645.80V367.20H667.80V367.20" fill="none" stroke="#e84c74" stroke-width="1.5"/>
<path d="M413.80,266.90H418.90V271.00H420.80V275.70H452.40V280.00H463.40V284.10H477.30V289.20H513.10V293.60H524.60V299.90H529.30V305.60H541.90V314.50H558.60V326.20H645.00V326.20" fill="none" stroke="#4de6b0" stroke-width="1.5"/>
<line x1="509.90" y1="305.90" x2="509.90" y2="310.70" stroke="#e84c74" stroke-width="1" />
<line x1="522.30" y1="305.90" x2="522.30" y2="310.70" stroke="#e84c74" stroke-width="1" />
<line x1="536.60" y1="305.90" x2="536.60" y2="310.70" stroke="#e84c74" stroke-width="1" />
<line x1="544.00" y1="305.90" x2="544.00" y2="310.70" stroke="#e84c74" stroke-width="1" />
<line x1="546.00" y1="305.90" x2="546.00" y2="310.70" stroke="#e84c74" stroke-width="1" />
<line x1="550.40" y1="305.90" x2="550.40" y2="310.70" stroke="#e84c74" stroke-width="1" />
<line x1="557.30" y1="305.90" x2="557.30" y2="310.70" stroke="#e84c74" stroke-width="1" />
<line x1="568.00" y1="305.90" x2="568.00" y2="310.70" stroke="#e84c74" stroke-width="1" />
<line x1="569.50" y1="305.90" x2="569.50" y2="310.70" stroke="#e84c74" stroke-width="1" />
<line x1="599.60" y1="331.60" x2="599.60" y2="336.00" stroke="#e84c74" stroke-width="1" />
<line x1="439.60" y1="273.30" x2="439.60" y2="278.10" stroke="#4de6b0" stroke-width="1" />
<line x1="509.90" y1="286.80" x2="509.90" y2="291.60" stroke="#4de6b0" stroke-width="1" />
<line x1="514.60" y1="291.20" x2="514.60" y2="296.00" stroke="#4de6b0" stroke-width="1" />
<line x1="516.20" y1="291.20" x2="516.20" y2="296.00" stroke="#4de6b0" stroke-width="1" />
<line x1="521.50" y1="291.20" x2="521.50" y2="296.00" stroke="#4de6b0" stroke-width="1" />
<line x1="523.50" y1="291.20" x2="523.50" y2="296.00" stroke="#4de6b0" stroke-width="1" />
<line x1="528.30" y1="297.50" x2="528.30" y2="302.30" stroke="#4de6b0" stroke-width="1" />
<line x1="533.50" y1="303.20" x2="533.50" y2="308.00" stroke="#4de6b0" stroke-width="1" />
<line x1="535.60" y1="303.20" x2="535.60" y2="308.00" stroke="#4de6b0" stroke-width="1" />
<line x1="539.80" y1="303.20" x2="539.80" y2="308.00" stroke="#4de6b0" stroke-width="1" />
<line x1="543.40" y1="312.10" x2="543.40" y2="316.90" stroke="#4de6b0" stroke-width="1" />
<line x1="548.70" y1="312.10" x2="548.70" y2="316.90" stroke="#4de6b0" stroke-width="1" />
<line x1="565.40" y1="323.80" x2="565.40" y2="328.60" stroke="#4de6b0" stroke-width="1" />
<line x1="594.50" y1="323.80" x2="594.50" y2="328.60" stroke="#4de6b0" stroke-width="1" />
<line x1="610.30" y1="323.80" x2="610.30" y2="328.60" stroke="#4de6b0" stroke-width="1" />
<line x1="623.00" y1="323.80" x2="623.00" y2="328.60" stroke="#4de6b0" stroke-width="1" />
<line x1="642.50" y1="323.80" x2="642.50" y2="328.60" stroke="#4de6b0" stroke-width="1" />
<line x1="413.80" y1="325.30" x2="598.30" y2="325.30" stroke="#3a3a3a" stroke-width="1.0" stroke-dasharray="2.1 2.2"/>
<line x1="558.40" y1="384.00" x2="558.40" y2="325.30" stroke="#3a3a3a" stroke-width="1.0" stroke-dasharray="2.1 2.2"/>
<line x1="598.30" y1="384.00" x2="598.30" y2="325.30" stroke="#3a3a3a" stroke-width="1.0" stroke-dasharray="2.1 2.2"/>
<line x1="401.80" y1="261.00" x2="401.80" y2="390.18" stroke="#485050" stroke-width="1.35" />
<line x1="399.80" y1="267.10" x2="401.80" y2="267.10" stroke="#485050" stroke-width="1.0" />
<text transform="translate(397.20,270.56) scale(0.86,1)" font-size="9.6" text-anchor="end" fill="#111111" stroke="#111111" stroke-width="0.2" font-weight="normal">1.00</text>
<line x1="399.80" y1="296.30" x2="401.80" y2="296.30" stroke="#485050" stroke-width="1.0" />
<text transform="translate(397.20,299.76) scale(0.86,1)" font-size="9.6" text-anchor="end" fill="#111111" stroke="#111111" stroke-width="0.2" font-weight="normal">0.75</text>
<line x1="399.80" y1="325.40" x2="401.80" y2="325.40" stroke="#485050" stroke-width="1.0" />
<text transform="translate(397.20,328.86) scale(0.86,1)" font-size="9.6" text-anchor="end" fill="#111111" stroke="#111111" stroke-width="0.2" font-weight="normal">0.50</text>
<line x1="399.80" y1="354.60" x2="401.80" y2="354.60" stroke="#485050" stroke-width="1.0" />
<text transform="translate(397.20,358.06) scale(0.86,1)" font-size="9.6" text-anchor="end" fill="#111111" stroke="#111111" stroke-width="0.2" font-weight="normal">0.25</text>
<line x1="399.80" y1="383.80" x2="401.80" y2="383.80" stroke="#485050" stroke-width="1.0" />
<text transform="translate(397.20,387.26) scale(0.86,1)" font-size="9.6" text-anchor="end" fill="#111111" stroke="#111111" stroke-width="0.2" font-weight="normal">0.00</text>
<line x1="401.12" y1="389.50" x2="667.00" y2="389.50" stroke="#485050" stroke-width="1.35" />
<line x1="413.80" y1="389.50" x2="413.80" y2="391.50" stroke="#485050" stroke-width="1.0" />
<text transform="translate(413.80,400.16) scale(0.86,1)" font-size="9.6" text-anchor="middle" fill="#111111" stroke="#111111" stroke-width="0.2" font-weight="normal">0</text>
<line x1="462.10" y1="389.50" x2="462.10" y2="391.50" stroke="#485050" stroke-width="1.0" />
<text transform="translate(462.10,400.16) scale(0.86,1)" font-size="9.6" text-anchor="middle" fill="#111111" stroke="#111111" stroke-width="0.2" font-weight="normal">10</text>
<line x1="510.40" y1="389.50" x2="510.40" y2="391.50" stroke="#485050" stroke-width="1.0" />
<text transform="translate(510.40,400.16) scale(0.86,1)" font-size="9.6" text-anchor="middle" fill="#111111" stroke="#111111" stroke-width="0.2" font-weight="normal">20</text>
<line x1="558.70" y1="389.50" x2="558.70" y2="391.50" stroke="#485050" stroke-width="1.0" />
<text transform="translate(558.70,400.16) scale(0.86,1)" font-size="9.6" text-anchor="middle" fill="#111111" stroke="#111111" stroke-width="0.2" font-weight="normal">30</text>
<line x1="607.00" y1="389.50" x2="607.00" y2="391.50" stroke="#485050" stroke-width="1.0" />
<text transform="translate(607.00,400.16) scale(0.86,1)" font-size="9.6" text-anchor="middle" fill="#111111" stroke="#111111" stroke-width="0.2" font-weight="normal">40</text>
<line x1="655.30" y1="389.50" x2="655.30" y2="391.50" stroke="#485050" stroke-width="1.0" />
<text transform="translate(655.30,400.16) scale(0.86,1)" font-size="9.6" text-anchor="middle" fill="#111111" stroke="#111111" stroke-width="0.2" font-weight="normal">50</text>
<text x="534.50" y="411.13" font-size="9.8" text-anchor="middle" fill="#111111" stroke="#111111" stroke-width="0.2" font-weight="normal" >Time (Months)</text>
<text x="0" y="0" font-size="10.2" text-anchor="middle" fill="#111111" stroke="#111111" stroke-width="0.2" transform="translate(378.6,324.8) rotate(-90) scale(0.84,1)">OS</text>
<text x="419.10" y="364.30" font-size="10.2" text-anchor="start" fill="#111111" stroke="#111111" stroke-width="0.2" font-weight="normal" >p = 0.68</text>
<line x1="544.10" y1="268.80" x2="549.90" y2="268.80" stroke="#e9607f" stroke-width="1.6" />
<line x1="544.80" y1="277.60" x2="550.70" y2="277.60" stroke="#5ee8da" stroke-width="1.6" />
<text x="555.50" y="271.54" font-size="7.6" text-anchor="start" fill="#222" stroke="#222" stroke-width="0.05" font-weight="normal" >≤ median</text>
<text x="555.50" y="280.34" font-size="7.6" text-anchor="start" fill="#222" stroke="#222" stroke-width="0.05" font-weight="normal" >&gt; median</text>
<text x="401.60" y="429.30" font-size="11.3" text-anchor="start" fill="#111111" stroke="#111111" stroke-width="0.2" font-weight="normal" >Number at risk</text>
<line x1="401.60" y1="436.00" x2="401.60" y2="452.10" stroke="#485050" stroke-width="1.3" />
<line x1="399.60" y1="440.30" x2="401.60" y2="440.30" stroke="#485050" stroke-width="1.0" />
<line x1="399.60" y1="448.40" x2="401.60" y2="448.40" stroke="#485050" stroke-width="1.0" />
<line x1="361.70" y1="439.40" x2="366.90" y2="439.40" stroke="#e84c74" stroke-width="1.2" />
<line x1="361.70" y1="447.90" x2="366.90" y2="447.90" stroke="#5ee8da" stroke-width="1.2" />
<text x="370.10" y="442.84" font-size="6.5" text-anchor="start" fill="#222" stroke="#222" stroke-width="0.08" font-weight="normal" >≤ median</text>
<text x="370.10" y="451.04" font-size="6.5" text-anchor="start" fill="#222" stroke="#222" stroke-width="0.08" font-weight="normal" >&gt; Median</text>
<line x1="400.93" y1="452.10" x2="667.40" y2="452.10" stroke="#485050" stroke-width="1.35" />
<line x1="413.80" y1="452.10" x2="413.80" y2="454.10" stroke="#485050" stroke-width="1.0" />
<text transform="translate(413.80,463.46) scale(0.86,1)" font-size="9.6" text-anchor="middle" fill="#111111" stroke="#111111" stroke-width="0.2" font-weight="normal">0</text>
<line x1="462.10" y1="452.10" x2="462.10" y2="454.10" stroke="#485050" stroke-width="1.0" />
<text transform="translate(462.10,463.46) scale(0.86,1)" font-size="9.6" text-anchor="middle" fill="#111111" stroke="#111111" stroke-width="0.2" font-weight="normal">10</text>
<line x1="510.40" y1="452.10" x2="510.40" y2="454.10" stroke="#485050" stroke-width="1.0" />
<text transform="translate(510.40,463.46) scale(0.86,1)" font-size="9.6" text-anchor="middle" fill="#111111" stroke="#111111" stroke-width="0.2" font-weight="normal">20</text>
<line x1="558.70" y1="452.10" x2="558.70" y2="454.10" stroke="#485050" stroke-width="1.0" />
<text transform="translate(558.70,463.46) scale(0.86,1)" font-size="9.6" text-anchor="middle" fill="#111111" stroke="#111111" stroke-width="0.2" font-weight="normal">30</text>
<line x1="607.00" y1="452.10" x2="607.00" y2="454.10" stroke="#485050" stroke-width="1.0" />
<text transform="translate(607.00,463.46) scale(0.86,1)" font-size="9.6" text-anchor="middle" fill="#111111" stroke="#111111" stroke-width="0.2" font-weight="normal">40</text>
<line x1="655.30" y1="452.10" x2="655.30" y2="454.10" stroke="#485050" stroke-width="1.0" />
<text transform="translate(655.30,463.46) scale(0.86,1)" font-size="9.6" text-anchor="middle" fill="#111111" stroke="#111111" stroke-width="0.2" font-weight="normal">50</text>
<text transform="translate(413.80,444.18) scale(0.9,1)" font-size="9.4" text-anchor="middle" fill="#111111" stroke="#111111" stroke-width="0.2" font-weight="normal">28</text>
<text transform="translate(413.80,452.28) scale(0.9,1)" font-size="9.4" text-anchor="middle" fill="#111111" stroke="#111111" stroke-width="0.2" font-weight="normal">27</text>
<text transform="translate(462.10,444.18) scale(0.9,1)" font-size="9.4" text-anchor="middle" fill="#111111" stroke="#111111" stroke-width="0.2" font-weight="normal">22</text>
<text transform="translate(462.10,452.28) scale(0.9,1)" font-size="9.4" text-anchor="middle" fill="#111111" stroke="#111111" stroke-width="0.2" font-weight="normal">23</text>
<text transform="translate(510.40,444.18) scale(0.9,1)" font-size="9.4" text-anchor="middle" fill="#111111" stroke="#111111" stroke-width="0.2" font-weight="normal">17</text>
<text transform="translate(510.40,452.28) scale(0.9,1)" font-size="9.4" text-anchor="middle" fill="#111111" stroke="#111111" stroke-width="0.2" font-weight="normal">20</text>
<text transform="translate(558.70,444.18) scale(0.9,1)" font-size="9.4" text-anchor="middle" fill="#111111" stroke="#111111" stroke-width="0.2" font-weight="normal">10</text>
<text transform="translate(558.70,452.28) scale(0.9,1)" font-size="9.4" text-anchor="middle" fill="#111111" stroke="#111111" stroke-width="0.2" font-weight="normal">6</text>
<text transform="translate(607.00,444.18) scale(0.9,1)" font-size="9.4" text-anchor="middle" fill="#111111" stroke="#111111" stroke-width="0.2" font-weight="normal">3</text>
<text transform="translate(607.00,452.28) scale(0.9,1)" font-size="9.4" text-anchor="middle" fill="#111111" stroke="#111111" stroke-width="0.2" font-weight="normal">3</text>
<text transform="translate(655.30,444.18) scale(0.9,1)" font-size="9.4" text-anchor="middle" fill="#111111" stroke="#111111" stroke-width="0.2" font-weight="normal">1</text>
<text transform="translate(655.30,452.28) scale(0.9,1)" font-size="9.4" text-anchor="middle" fill="#111111" stroke="#111111" stroke-width="0.2" font-weight="normal">0</text>
<text x="534.50" y="474.26" font-size="9.6" text-anchor="middle" fill="#111111" stroke="#111111" stroke-width="0.2" font-weight="normal" >Time (Months)</text>
</svg>
</body></html>
